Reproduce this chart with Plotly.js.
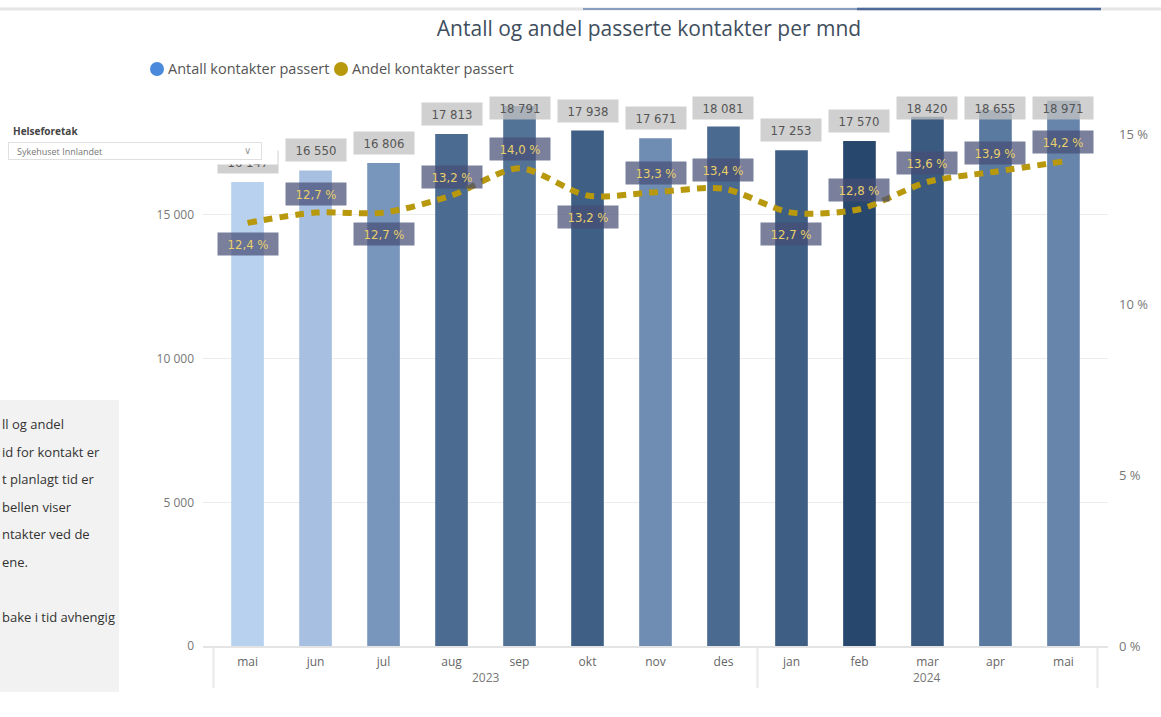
<!DOCTYPE html>
<html><head><meta charset="utf-8">
<script src="https://cdn.plot.ly/plotly-3.0.1.min.js"></script>
<style>html,body{margin:0;padding:0;background:#fff;overflow:hidden}#chart{width:1161px;height:717px}</style>
</head><body><div id="chart"></div>
<script>
// ---- data ----
const months = ['mai','jun','jul','aug','sep','okt','nov','des','jan','feb','mar','apr','mai'];
const years  = ['2023','2023','2023','2023','2023','2023','2023','2023','2024','2024','2024','2024','2024'];
const antall = [16147,16550,16806,17813,18791,17938,17671,18081,17253,17570,18420,18655,18971];
const andel  = [12.4,12.7,12.7,13.2,14.0,13.2,13.3,13.4,12.7,12.8,13.6,13.9,14.2];
const barColors = ['#b8d1ee','#a7bfe0','#7895bb','#4c6b91','#527296','#3f5f85','#6f8cb3','#4b6a90','#3e5e84','#27476d','#3a5a80','#5a7aa0','#6784aa'];
const pctLabelSide = ['below','above','below','above','above','below','above','above','below','above','above','above','above'];
const seriesNames = ['Antall kontakter passert','Andel kontakter passert'];
const panelLines = ['ll og andel','id for kontakt er','t planlagt tid er','bellen viser','ntakter ved de','ene.','','bake i tid avhengig'];

// ---- layout helpers ----
const W = 1161, H = 717;
const M = {l:203, r:53, t:100, b:71};
const PW = W - M.l - M.r, PH = H - M.t - M.b;
const px = x => (x - M.l) / PW;
const py = y => (H - M.b - y) / PH;
const fmtN = v => String(v).replace(/\B(?=(\d{3})+(?!\d))/g, ' ');
const fmtP = p => p.toFixed(1).replace('.', ',') + ' %';
const cond = 'Liberation Sans Narrow, DejaVu Sans Condensed, Arial Narrow, sans-serif';
const ui = 'Segoe UI, Open Sans, sans-serif';

const idx = months.map((m,i) => i);
const traces = [
  {type:'bar', x:idx, y:antall, marker:{color:barColors}, width:0.48, name:seriesNames[0], showlegend:false, hoverinfo:'skip'},
  {type:'scatter', mode:'lines', x:idx, y:andel, yaxis:'y2', name:seriesNames[1], showlegend:false, hoverinfo:'skip',
   line:{color:'#b8980c', width:6, dash:'9px,7px', shape:'spline', smoothing:0.8}}
];

const ann = [];
const yMax = 19000;
const labelTop = 18725;
antall.forEach((v,i) => {
  const yl = Math.min(v + 20 * yMax / PH, labelTop);
  ann.push({x:i, y:yl, xref:'x', yref:'y', text:fmtN(v), showarrow:false,
    font:{family:cond, size:13, color:'#555'}, bgcolor:'rgba(195,195,195,0.78)', width:58, height:20, borderpad:1});
});
andel.forEach((p,i) => {
  ann.push({x:i, y:p, xref:'x', yref:'y2', yshift: pctLabelSide[i]==='above' ? 19 : -21, text:fmtP(p), showarrow:false,
    font:{family:cond, size:13, color:'#e9d06a'}, bgcolor:'rgba(70,78,118,0.72)', width:58, height:20, borderpad:1});
});
// year labels under the month ticks
const yearGroups = [];
years.forEach((y,i) => {
  const g = yearGroups.find(o => o.year === y);
  if (g) g.last = i; else yearGroups.push({year:y, first:i, last:i});
});
yearGroups.forEach(g => {
  ann.push({x:(g.first + g.last)/2, xref:'x', yref:'paper', y:py(677), yanchor:'middle', text:g.year, showarrow:false,
    font:{family:ui, size:12, color:'#777'}});
});
// slicer overlay (covers first label partly)
ann.push({xref:'paper', yref:'paper', x:px(0), y:py(118), xanchor:'left', yanchor:'top', text:' ', showarrow:false,
  bgcolor:'#ffffff', width:276, height:45, borderpad:0});
ann.push({xref:'paper', yref:'paper', x:px(11), y:py(131), xanchor:'left', yanchor:'middle', text:'<b>Helseforetak</b>', showarrow:false,
  font:{family:ui, size:10, color:'#444'}});
ann.push({xref:'paper', yref:'paper', x:px(8), y:py(151), xanchor:'left', yanchor:'middle', text:' ', showarrow:false,
  width:250, height:14, bordercolor:'#e0e0e0', borderwidth:1, borderpad:1, bgcolor:'#fff'});
ann.push({xref:'paper', yref:'paper', x:px(15), y:py(151), xanchor:'left', yanchor:'middle', text:'Sykehuset Innlandet', showarrow:false,
  font:{family:ui, size:9, color:'#777'}});
ann.push({xref:'paper', yref:'paper', x:px(247), y:py(150), xanchor:'center', yanchor:'middle', text:'∨', showarrow:false,
  font:{family:'DejaVu Sans', size:10, color:'#999'}});
// legend
ann.push({xref:'paper', yref:'paper', x:px(166), y:py(69), xanchor:'left', yanchor:'middle', text:seriesNames[0], showarrow:false,
  font:{family:ui, size:14.5, color:'#555'}});
ann.push({xref:'paper', yref:'paper', x:px(350), y:py(69), xanchor:'left', yanchor:'middle', text:seriesNames[1], showarrow:false,
  font:{family:ui, size:14.5, color:'#555'}});
// left text panel
panelLines.forEach((t,k) => {
  if (!t) return;
  ann.push({xref:'paper', yref:'paper', x:px(0), y:py(424 + k*27.6), xanchor:'left', yanchor:'middle', text:t, showarrow:false,
    font:{family:ui, size:13, color:'#333'}});
});

const shapes = [
  {type:'rect', xref:'paper', yref:'paper', x0:px(0), x1:px(119), y0:py(400), y1:py(692), fillcolor:'#f2f2f2', line:{width:0}, layer:'below'},
  {type:'line', xref:'paper', yref:'paper', x0:px(0), x1:px(1161), y0:py(9), y1:py(9), line:{color:'#e6e6e6', width:3}},
  {type:'line', xref:'paper', yref:'paper', x0:px(583), x1:px(857), y0:py(9), y1:py(9), line:{color:'#6a86b0', width:1.5}},
  {type:'line', xref:'paper', yref:'paper', x0:px(857), x1:px(1101), y0:py(9), y1:py(9), line:{color:'#4d6a98', width:2.5}},
  {type:'circle', xref:'paper', yref:'paper', x0:px(150), x1:px(164), y0:py(62), y1:py(76), fillcolor:'#4a89dc', line:{width:0}},
  {type:'circle', xref:'paper', yref:'paper', x0:px(334), x1:px(348), y0:py(62), y1:py(76), fillcolor:'#b8980c', line:{width:0}}
];
// year dividers on the x axis
const dividers = [-0.5];
yearGroups.forEach(g => dividers.push(g.last + 0.5));
dividers.forEach(d => shapes.push({type:'line', xref:'x', yref:'paper', x0:d, x1:d, y0:py(647), y1:py(688),
  line:{color:'#e8e8e8', width:2}}));

const layout = {
  width:W, height:H, margin:M, paper_bgcolor:'#fff', plot_bgcolor:'rgba(0,0,0,0)',
  separators:', ', showlegend:false, hovermode:false,
  title:{text:'Antall og andel passerte kontakter per mnd', x:649/W, xref:'container', xanchor:'center',
    y:1-29/H, yref:'container', yanchor:'middle', font:{family:ui, size:21, color:'#3f4e5e'}},
  xaxis:{type:'linear', range:[-0.655, 12.655], tickvals:idx, ticktext:months, showgrid:false, zeroline:false,
    showline:true, linecolor:'#e4e4e4', linewidth:2, ticks:'', ticklabelstandoff:4,
    tickfont:{family:ui, size:12, color:'#666'}},
  yaxis:{range:[0,yMax], dtick:5000, tickformat:',d', gridcolor:'#ececec', gridwidth:1, zeroline:false,
    tickfont:{family:ui, size:12, color:'#777'}, ticklabelstandoff:8},
  yaxis2:{overlaying:'y', side:'right', range:[0,16], dtick:5, ticksuffix:' %', showgrid:false, zeroline:false,
    tickfont:{family:ui, size:13, color:'#777'}, ticklabelstandoff:10},
  annotations:ann, shapes:shapes
};
Plotly.newPlot('chart', traces, layout, {staticPlot:true, displayModeBar:false});
</script></body></html>
